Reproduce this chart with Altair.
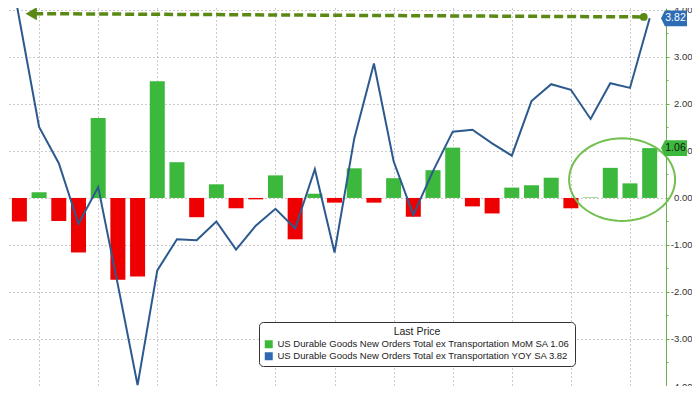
import math
import altair as alt
import pandas as pd

# ---- data ----
idx = list(range(34))
mom = [0.36, -0.50, 0.12, -0.49, -1.16, 1.70, -1.74, -1.67, 2.48, 0.76,
       -0.41, 0.29, -0.22, -0.03, 0.48, -0.88, 0.09, -0.10, 0.63, -0.10,
       0.42, -0.40, 0.59, 1.07, -0.18, -0.33, 0.22, 0.27, 0.43, -0.22,
       0.01, 0.64, 0.31, 1.06]
yoy = [6.10, 3.80, 1.51, 0.74, -0.55, 0.23, -1.85, -3.98, -1.54, -0.88,
       -0.90, -0.50, -1.10, -0.59, -0.23, -0.65, 0.61, -1.16, 1.26, 2.86,
       0.78, -0.36, 0.57, 1.41, 1.45, 1.16, 0.90, 2.06, 2.42, 2.30,
       1.68, 2.44, 2.34, 3.82]
series_labels = [
    "US Durable Goods New Orders Total ex Transportation MoM SA 1.06",
    "US Durable Goods New Orders Total ex Transportation YOY SA 3.82",
]
y_ticks = [v / 2 for v in range(-8, 9)]
x_grid = list(range(2, 34, 3))

# annotation anchors (data units)
arrow_x = [1.75, 32.7]
arrow_y = [3.92, 3.85]
ellipse_x, ellipse_y = 31.6, 0.39

X_DOMAIN = [0.675, 33.575]
Y_DOMAIN = [-4.0, 4.04]

GREEN = "#3cb93c"
RED = "#ee0000"
BLUE_LINE = "#2c5a8e"
BLUE_TAG = "#2e6db4"
OLIVE = "#5a8a14"
AXIS_GREEN = "#6ab04c"
FONT = "Liberation Sans"

# unit ellipse outline as a symbol path (shape only, positioned through the scales)
_pts = [(math.cos(2 * math.pi * k / 72), 0.78 * math.sin(2 * math.pi * k / 72)) for k in range(72)]
ELLIPSE_PATH = "M " + " L ".join(f"{px:.4f} {py:.4f}" for px, py in _pts) + " Z"

df = pd.DataFrame({"idx": idx, "mom": mom, "yoy": yoy})
xs = alt.Scale(domain=X_DOMAIN, nice=False, zero=False)
ys = alt.Scale(domain=Y_DOMAIN, nice=False, zero=False)

x_axis = alt.Axis(values=x_grid, grid=True, gridDash=[1, 3], gridColor="#999999",
                  labels=False, ticks=False, domain=False, title=None)
y_axis = alt.Axis(
    orient="right", values=y_ticks, title=None,
    grid=True, gridDash=[1, 3], gridColor="#999999",
    gridOpacity={"condition": {"test": "datum.value % 1 != 0", "value": 0}, "value": 1},
    tickSize={"condition": {"test": "datum.value % 1 != 0", "value": 2}, "value": 3},
    labelExpr="datum.value % 1 ? '' : (datum.value < 0 ? '-' : '') + format(abs(datum.value), '.2f')",
    domainColor=AXIS_GREEN, tickColor=AXIS_GREEN, labelColor="#333333",
    labelFont=FONT, labelFontSize=9.5, labelAlign="right", labelPadding=23,
)


def X(field=None, datum=None):
    if datum is not None:
        return alt.X(datum=datum, scale=xs, axis=x_axis)
    return alt.X(field, scale=xs, axis=x_axis)


def Y(field=None, datum=None):
    if datum is not None:
        return alt.Y(datum=datum, scale=ys, axis=y_axis)
    return alt.Y(field, scale=ys, axis=y_axis)


bars = alt.Chart(df).mark_bar(size=15, clip=True).encode(
    x=X("idx:Q"),
    y=Y("mom:Q"),
    y2=alt.datum(0),
    color=alt.condition("datum.mom >= 0", alt.value(GREEN), alt.value(RED)),
)

line = alt.Chart(df).mark_line(color=BLUE_LINE, strokeWidth=2, clip=True).encode(
    x=X("idx:Q"),
    y=Y("yoy:Q"),
)

ellipse = alt.Chart(pd.DataFrame({"x": [ellipse_x], "y": [ellipse_y]})).mark_point(
    shape=ELLIPSE_PATH,
    size=106 * 106, filled=False, stroke="#72c050", strokeWidth=2, opacity=1,
).encode(x=X("x:Q"), y=Y("y:Q"))

arrow_df = pd.DataFrame({"x": arrow_x, "y": arrow_y})
arrow_line = alt.Chart(arrow_df).mark_line(
    color=OLIVE, strokeWidth=3.5, strokeDash=[9, 4]
).encode(x=X("x:Q"), y=Y("y:Q"))
arrow_head = alt.Chart(pd.DataFrame({"x": [arrow_x[0] - 0.15], "y": [arrow_y[0]]})).mark_point(
    shape="triangle-left", filled=True, size=170, color=OLIVE, opacity=1,
).encode(x=X("x:Q"), y=Y("y:Q"))
arrow_dot = alt.Chart(pd.DataFrame({"x": [arrow_x[1]], "y": [arrow_y[1]]})).mark_point(
    shape="circle", filled=True, size=60, color=OLIVE, opacity=1,
).encode(x=X("x:Q"), y=Y("y:Q"))

tag_df = pd.DataFrame({
    "v": [yoy[-1], mom[-1]],
    "t": [f"{yoy[-1]:.2f}", f"{mom[-1]:.2f}"],
    "fill": [BLUE_TAG, GREEN],
    "tc": ["white", "#111111"],
})
tag_shape = alt.Chart(tag_df).mark_point(
    shape="M -1 0 L -0.7 -0.6 L 1 -0.6 L 1 0.6 L -0.7 0.6 Z",
    size=26 * 26, filled=True, opacity=1, xOffset=13,
).encode(
    x=X(datum=X_DOMAIN[1]),
    y=Y("v:Q"),
    color=alt.Color("fill:N", scale=None),
)
tag_text = alt.Chart(tag_df).mark_text(
    font=FONT, fontSize=10.5, xOffset=14.5, align="center", baseline="middle",
).encode(
    x=X(datum=X_DOMAIN[1]),
    y=Y("v:Q"),
    text="t:N",
    color=alt.Color("tc:N", scale=None),
)

legend_layer = alt.Chart(pd.DataFrame({"series": series_labels})).mark_square(
    opacity=0, size=10
).encode(
    x=X(datum=10),
    y=Y(datum=0),
    fill=alt.Fill(
        "series:N",
        scale=alt.Scale(domain=series_labels, range=[GREEN, "#2f68b0"]),
        legend=alt.Legend(
            title="Last Price", orient="none", legendX=251, legendY=314,
            titleAnchor="middle", titleFont=FONT, titleFontSize=10.5,
            titleFontWeight="normal", titleColor="#222222", titlePadding=2,
            labelFont=FONT, labelFontSize=9.5, labelColor="#222222",
            labelLimit=500, symbolType="square", symbolSize=64, symbolOpacity=1,
            symbolStrokeWidth=0, rowPadding=1, padding=5,
            fillColor="white", strokeColor="#333333", cornerRadius=4,
        ),
    ),
)

chart = alt.layer(
    bars, line, ellipse, arrow_line, arrow_head, arrow_dot, tag_shape, tag_text, legend_layer
).properties(
    width=658, height=378,
    autosize=alt.AutoSizeParams(type="none"),
    padding={"left": 0, "top": 0, "right": 26, "bottom": 0},
    background="white",
).configure_view(stroke=None)

chart.save("out.html", embed_options={"renderer": "svg", "actions": False})
